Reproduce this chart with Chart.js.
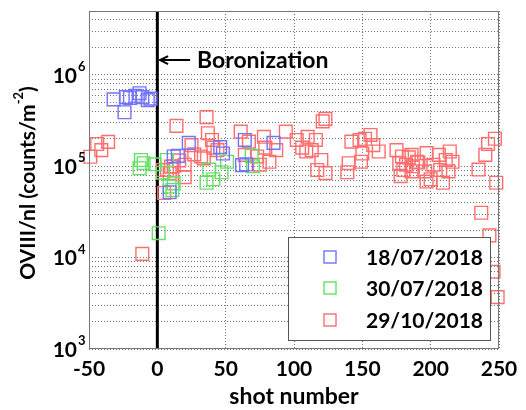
<!DOCTYPE html>
<html>
<head>
<meta charset="utf-8">
<script src="https://cdn.jsdelivr.net/npm/chart.js@4.4.1/dist/chart.umd.min.js"></script>
<style>
  html, body { margin: 0; padding: 0; background: #fff; }
  #wrap { width: 526px; height: 410px; }
</style>
</head>
<body>
<div id="wrap"><canvas id="chart" width="526" height="410"></canvas></div>
<script>
// shot number / OVIII intensity per campaign
const blueShot  = [-32, -24, -23, -20, -16, -13, -11, -7, -5, 9, 12, 15, 23, 46, 48, 62, 64, 65, 85];
const blueRatio = [5.4e5, 3.9e5, 5.7e5, 5.6e5, 5.9e5, 6.3e5, 5.7e5, 5.3e5, 5.5e5, 5.2e4, 1.28e5, 1.3e5, 1.8e5, 1.62e5, 1.38e5, 1.03e5, 1.94e5, 1.05e5, 1.8e5];

const greenShot  = [-13, -12, -10, -2, 1, 4, 7, 9, 11, 12, 36, 38, 41, 47, 51, 69, 70];
const greenRatio = [9.5e4, 1.17e5, 1.08e5, 1.05e5, 1.85e4, 8.5e4, 1.17e5, 6e4, 5.5e4, 6.5e4, 6.6e4, 9.2e4, 7.2e4, 8.6e4, 1.12e5, 1.3e5, 1.0e5];

const redShot = [-49, -44, -41, -36, -11,
  4, 5, 7, 9, 10, 12, 14, 16, 20, 20, 25, 27, 32, 34, 36, 37, 40, 41, 44,
  61, 64, 67, 73, 75, 78, 79, 82, 87, 94,
  102, 106, 109, 110, 113, 116, 117, 120, 121, 123, 123,
  139, 140, 142, 148, 149, 150, 152, 156, 158, 162,
  175, 177, 178, 179, 180, 182, 184, 186, 186, 187, 190, 191, 196, 197, 197, 200, 202, 206, 207, 209, 211, 213, 214, 216,
  235, 237, 240, 242, 243, 246, 247, 248, 249];
const redRatio = [1.27e5, 1.75e5, 1.5e5, 1.85e5, 1.1e4,
  9.1e4, 5.1e4, 9.1e4, 8.4e4, 9.9e4, 1.0e5, 2.77e5, 1.16e5, 1.04e5, 7.6e4, 1.7e5, 1.35e5, 1.28e5, 1.22e5, 3.45e5, 2.3e5, 1.94e5, 1.6e5, 1.5e5,
  2.39e5, 1.33e5, 1.86e5, 1.28e5, 1.04e5, 2.1e5, 1.6e5, 1.12e5, 1.5e5, 2.39e5,
  1.94e5, 1.6e5, 1.45e5, 2.1e5, 1.5e5, 1.94e5, 9.1e4, 1.17e5, 3.1e5, 3.3e5, 8.4e4,
  8.6e4, 1.08e5, 1.86e5, 1.94e5, 1.12e5, 1.38e5, 2.0e5, 2.2e5, 1.7e5, 1.45e5,
  1.5e5, 1.08e5, 7.8e4, 1.28e5, 9.1e4, 1.04e5, 1.25e5, 8.8e4, 1.33e5, 1.0e5, 1.12e5, 1.1e5, 8.8e4, 1.39e5, 6.8e4, 7.2e4, 1.04e5, 1.33e5, 9.1e4, 6.6e4, 1.17e5, 8.8e4, 1.45e5, 1.12e5,
  9.2e4, 3.1e4, 1.33e5, 1.75e5, 1.75e4, 7e3, 2.0e5, 6.6e4, 3.7e3];

const seriesLabels = ['18/07/2018', '30/07/2018', '29/10/2018'];
const seriesColors = ['rgb(115,115,255)', 'rgb(100,225,100)', 'rgb(255,110,110)'];

const xTicks = [-50, 0, 50, 100, 150, 200, 250];
const yDecades = [3, 4, 5, 6];
const yMin = 1e3, yMax = 5e6;

// boronization marker
const boronShot = 0;
const arrowFrom = 24, arrowTo = 2, arrowLevel = 1.45e6, noteShot = 29;

const FONT = 'Lato, "Open Sans", sans-serif';

// all grid values 1..9 x 10^n between min and max
const yGrid = [];
yDecades.forEach(p => {
  for (let m = 1; m <= 9; m++) {
    const v = m * Math.pow(10, p);
    if (v >= yMin && v <= yMax) yGrid.push(v);
  }
});

const pts = (xs, ys) => xs.map((x, i) => ({ x: x, y: ys[i] }));

const scatterSet = (i, xs, ys) => ({
  type: 'scatter',
  label: seriesLabels[i],
  data: pts(xs, ys),
  pointStyle: 'rect',
  pointRadius: 9,
  pointHoverRadius: 9,
  borderWidth: 1.4,
  borderColor: seriesColors[i],
  backgroundColor: 'rgba(0,0,0,0)',
  clip: false,
  order: 1
});

function drawSquare(ctx, cx, cy, side, color) {
  ctx.strokeStyle = color;
  ctx.lineWidth = 1.4;
  ctx.strokeRect(cx - side / 2, cy - side / 2, side, side);
}

const overlay = {
  id: 'overlay',
  afterDatasetsDraw(chart) {
    const { ctx, chartArea: a, scales: { x, y } } = chart;
    ctx.save();
    // frame
    ctx.strokeStyle = '#777';
    ctx.lineWidth = 1;
    ctx.strokeRect(a.left + 0.5, a.top + 0.5, a.right - a.left - 1, a.bottom - a.top - 1);

    // arrow + note
    const ay = y.getPixelForValue(arrowLevel);
    const x0 = x.getPixelForValue(arrowFrom), x1 = x.getPixelForValue(arrowTo);
    ctx.strokeStyle = '#000';
    ctx.lineWidth = 2;
    ctx.beginPath();
    ctx.moveTo(x0, ay); ctx.lineTo(x1, ay);
    ctx.moveTo(x1 + 8, ay - 4); ctx.lineTo(x1, ay); ctx.lineTo(x1 + 8, ay + 4);
    ctx.stroke();
    ctx.fillStyle = '#000';
    ctx.font = 'bold 23px ' + FONT;
    ctx.textAlign = 'left';
    ctx.textBaseline = 'middle';
    ctx.fillText('Boronization', x.getPixelForValue(noteShot), ay);

    // legend box
    const bw = 202, bh = 103;
    const bx = a.right - 9 - bw, by = a.bottom - 9 - bh;
    ctx.fillStyle = '#fff';
    ctx.fillRect(bx, by, bw, bh);
    ctx.strokeStyle = '#555';
    ctx.lineWidth = 1;
    ctx.strokeRect(bx + 0.5, by + 0.5, bw, bh);
    const rows = [20, 51, 83];
    seriesLabels.forEach((lab, i) => {
      drawSquare(ctx, bx + 42, by + rows[i], 12, seriesColors[i]);
      ctx.fillStyle = '#000';
      ctx.font = 'bold 21px ' + FONT;
      ctx.textAlign = 'left';
      ctx.textBaseline = 'middle';
      ctx.fillText(lab, bx + 78, by + rows[i] + 1);
    });
    ctx.restore();
  },
  afterDraw(chart) {
    const { ctx, chartArea: a, scales: { y } } = chart;
    ctx.save();
    ctx.fillStyle = '#000';
    // y tick labels 10^n
    yDecades.forEach(p => {
      const py = y.getPixelForValue(Math.pow(10, p));
      ctx.font = 'bold 21px ' + FONT;
      ctx.textAlign = 'right';
      ctx.textBaseline = 'middle';
      ctx.fillText('10', a.left - 12, py + 1);
      ctx.font = 'bold 13px ' + FONT;
      ctx.textAlign = 'left';
      ctx.fillText(String(p), a.left - 11, py - 8);
    });
    // y title with superscript
    const t1 = 'OVIII/nl (counts/m', sup = '-2', t2 = ')';
    const big = 'bold 21px ' + FONT, small = 'bold 13px ' + FONT;
    ctx.font = big;
    const w1 = ctx.measureText(t1).width, w3 = ctx.measureText(t2).width;
    ctx.font = small;
    const w2 = ctx.measureText(sup).width;
    const total = w1 + w2 + w3;
    ctx.translate(28, (a.top + a.bottom) / 2 + 3);
    ctx.rotate(-Math.PI / 2);
    ctx.textAlign = 'left';
    ctx.textBaseline = 'middle';
    let cx = -total / 2;
    ctx.font = big;
    ctx.fillText(t1, cx, 0); cx += w1;
    ctx.font = small;
    ctx.fillText(sup, cx, -9); cx += w2;
    ctx.font = big;
    ctx.fillText(t2, cx, 0);
    ctx.restore();
  }
};

new Chart(document.getElementById('chart').getContext('2d'), {
  data: {
    datasets: [
      scatterSet(0, blueShot, blueRatio),
      scatterSet(1, greenShot, greenRatio),
      scatterSet(2, redShot, redRatio),
      {
        type: 'line',
        label: 'Boronization',
        data: [{ x: boronShot, y: yMin }, { x: boronShot, y: yMax }],
        borderColor: '#000',
        borderWidth: 3,
        pointRadius: 0,
        order: 10
      }
    ]
  },
  options: {
    responsive: false,
    animation: false,
    events: [],
    layout: { padding: { top: 11, right: 27, left: 0, bottom: 0 } },
    plugins: { legend: { display: false }, tooltip: { enabled: false } },
    scales: {
      x: {
        type: 'linear',
        min: xTicks[0],
        max: xTicks[xTicks.length - 1],
        afterBuildTicks: s => { s.ticks = xTicks.map(v => ({ value: v })); },
        afterFit: s => { s.height = 61; },
        grid: { color: 'rgba(0,0,0,0.55)', lineWidth: 1, drawTicks: false },
        border: { display: false, dash: [1, 2] },
        ticks: {
          color: '#000',
          padding: 8,
          maxRotation: 0,
          font: { family: FONT, size: 21, weight: 'bold' }
        },
        title: {
          display: true,
          text: 'shot number',
          color: '#000',
          padding: { top: 0, bottom: 0 },
          font: { family: FONT, size: 23, weight: 'bold' }
        }
      },
      y: {
        type: 'logarithmic',
        min: yMin,
        max: yMax,
        afterBuildTicks: s => { s.ticks = yGrid.map(v => ({ value: v })); },
        afterFit: s => { s.width = 89; },
        grid: { color: 'rgba(0,0,0,0.55)', lineWidth: 1, drawTicks: false },
        border: { display: false, dash: [1, 2] },
        ticks: { display: false }
      }
    }
  },
  plugins: [overlay]
});
</script>
</body>
</html>
